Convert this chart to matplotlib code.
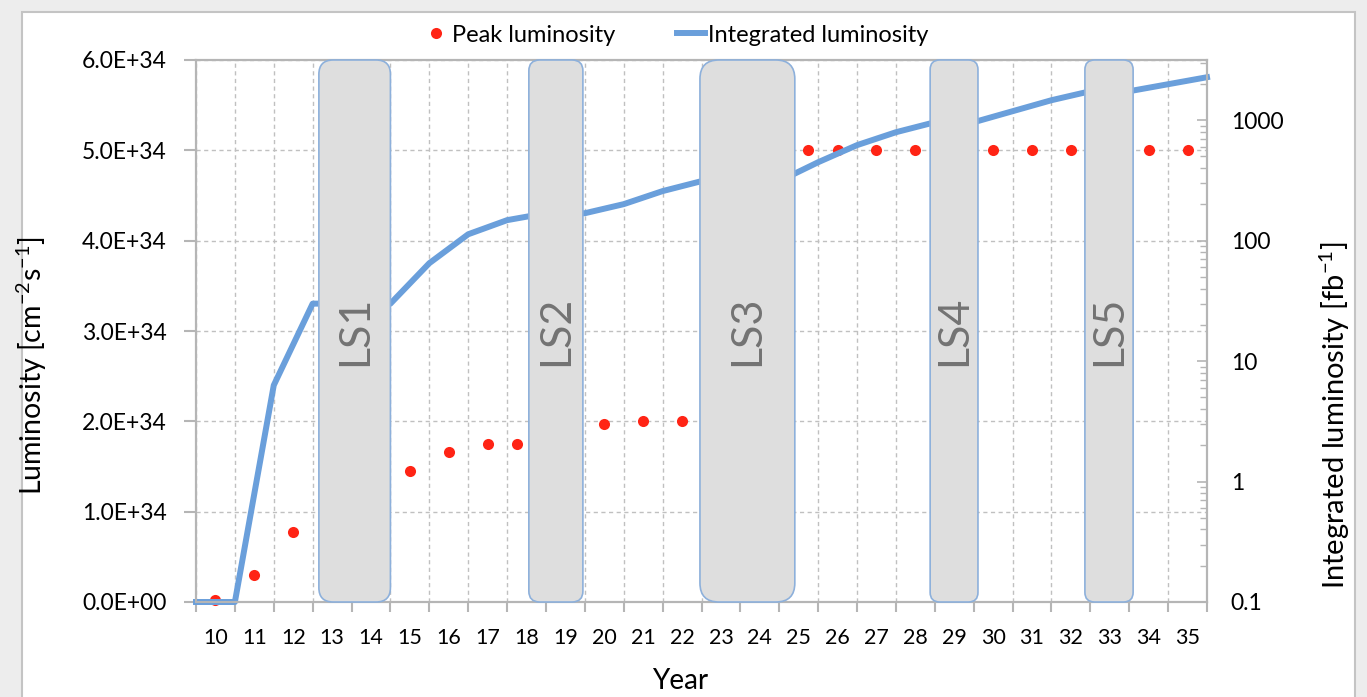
import matplotlib.pyplot as plt
import numpy as np
from matplotlib.patches import FancyBboxPatch, Rectangle
from matplotlib.lines import Line2D
from matplotlib.ticker import LogLocator, NullFormatter

plt.rcParams['font.family'] = ['Lato', 'DejaVu Sans']
plt.rcParams['mathtext.fontset'] = 'custom'
plt.rcParams['mathtext.rm'] = 'Lato'
plt.rcParams['mathtext.it'] = 'Lato:italic'
plt.rcParams['mathtext.bf'] = 'Lato:bold'

# years on the category axis
years = list(range(10, 36))
year_labels = [str(y) for y in years]

# peak luminosity, x in years (slot start = year), value in 1E34 cm-2 s-1
peak_x = [10.5, 11.5, 12.5, 15.5, 16.5, 17.5, 18.25, 20.5, 21.5, 22.5,
          25.75, 26.5, 27.5, 28.5, 30.5, 31.5, 32.5, 34.5, 35.5]
peak_lumi = [0.02, 0.30, 0.77, 1.45, 1.66, 1.75, 1.75, 1.97, 2.0, 2.0,
             5.0, 5.0, 5.0, 5.0, 5.0, 5.0, 5.0, 5.0, 5.0]

# integrated luminosity (fb-1) at the start of each year
int_x = list(range(10, 37))
int_lumi = [0.1, 0.1, 6.3, 30, 30, 30, 65, 113, 148, 169, 169, 201, 258,
            312, 312, 312, 448, 621, 795, 962, 962, 1188, 1466, 1741, 1741,
            1990, 2275]

# long shutdowns
shutdowns = ['LS1', 'LS2', 'LS3', 'LS4', 'LS5']
shutdown_start = [13.16, 18.56, 22.96, 28.88, 32.86]
shutdown_end = [15.0, 19.95, 25.4, 30.11, 34.1]

grey = '#B5B5B5'
red = '#FF2415'
blue = '#6A9FDB'

W, H = 1367, 697
fig = plt.figure(figsize=(W / 100, H / 100), dpi=100)
fig.patch.set_facecolor('#EDEDED')
# white chart sheet behind everything
sheet = Rectangle((22 / W, -0.05), (1355 - 22) / W, 1.05 - 12 / H,
                  transform=fig.transFigure, facecolor='white',
                  edgecolor='#C4C4C4', lw=1.5, zorder=-10)
fig.patches.append(sheet)

left, right, bottom, top = 196 / W, 1207 / W, 1 - 602 / H, 1 - 60 / H
ax = fig.add_axes([left, bottom, right - left, top - bottom])
ax.set_facecolor('white')

x0, x1 = 10, 36
ax.plot(peak_x, np.array(peak_lumi) * 1e34, 'o', color=red, ms=8,
        mec='none', zorder=3, clip_on=False)
ax.set_xlim(x0, x1)
ax.set_ylim(0, 6e34)

yt = np.arange(0, 7) * 1e34
ax.set_yticks(yt)
ax.set_yticklabels(['{:.1E}'.format(v) for v in yt])
ax.tick_params(axis='y', length=9, color=grey, width=1.5, pad=12, labelsize=16.5)

ax.set_xticks(range(x0, x1 + 1))
ax.set_xticklabels([])
ax.set_xticks([y + 0.5 for y in years], minor=True)
ax.set_xticklabels(year_labels, minor=True)
ax.tick_params(axis='x', which='major', length=7, color=grey, width=1.5)
ax.tick_params(axis='x', which='minor', length=0, pad=19, labelsize=15.5)

ax.grid(True, which='major', linestyle=(0, (3, 2.5)), color='#C0C0C0', lw=1)
ax.set_axisbelow(True)
for spine in ax.spines.values():
    spine.set_edgecolor(grey)
    spine.set_linewidth(1.5)

ax.set_ylabel(r'Luminosity [cm$^{-2}$s$^{-1}$]', fontsize=20.5)
ax.yaxis.set_label_coords(-0.145, 0.437)
ax.set_xlabel('Year', fontsize=20)
ax.xaxis.set_label_coords(0.479, -0.122)

# integrated luminosity on log scale
ax2 = ax.twinx()
ax2.set_yscale('log')
ax2.set_ylim(0.1, 10 ** 3.5)
ax2.plot(int_x, int_lumi, color=blue, lw=4.3, zorder=2, clip_on=False,
         solid_joinstyle='round')
ax2.set_yticks([0.1, 1, 10, 100, 1000])
ax2.set_yticklabels(['0.1', '1', '10', '100', '1000'])
ax2.yaxis.set_minor_locator(LogLocator(base=10, subs=np.arange(2, 10)))
ax2.yaxis.set_minor_formatter(NullFormatter())
ax2.tick_params(axis='y', which='major', direction='in', length=7, color=grey,
                width=1.2, pad=17, labelsize=16.5)
ax2.tick_params(axis='y', which='minor', direction='in', length=5, color=grey,
                width=1.0)
for spine in ax2.spines.values():
    spine.set_edgecolor(grey)
    spine.set_linewidth(1.5)
ax2.set_ylabel('Integrated luminosity [fb$^{-1}$]', fontsize=21, rotation=90,
               va='top')
ax2.yaxis.set_label_coords(1.11, 0.345)

# shutdown boxes (x in data, y in axes), rounded corners kept circular
pos = ax.get_position()
px_per_x = pos.width * W / (x1 - x0)
px_per_y = pos.height * H
aspect = px_per_x / px_per_y
trans = ax2.get_xaxis_transform()
for name, s, e in zip(shutdowns, shutdown_start, shutdown_end):
    w = e - s
    box = FancyBboxPatch((s, 0), w, 1,
                         boxstyle='round,pad=0,rounding_size=%f' % (0.2 * w),
                         mutation_aspect=aspect, transform=trans,
                         facecolor='#DEDEDE', edgecolor='#8DB0DB', lw=1.2,
                         zorder=5, clip_on=False)
    ax2.add_patch(box)
    ax2.text((s + e) / 2, 0.5, name, transform=trans, rotation=90,
             ha='center', va='center', fontsize=31, color='#737373', zorder=6)

handles = [Line2D([], [], marker='o', color=red, mec='none', ls='none', ms=8),
           Line2D([], [], color=blue, lw=4.3)]
fig.legend(handles, ['Peak luminosity', 'Integrated luminosity'],
           loc='center', bbox_to_anchor=(675 / W, 1 - 35 / H), ncol=2,
           frameon=False, fontsize=17, handlelength=1.2, handletextpad=0.1,
           columnspacing=2.6)

fig.savefig('out.png', dpi=100, facecolor=fig.get_facecolor())
